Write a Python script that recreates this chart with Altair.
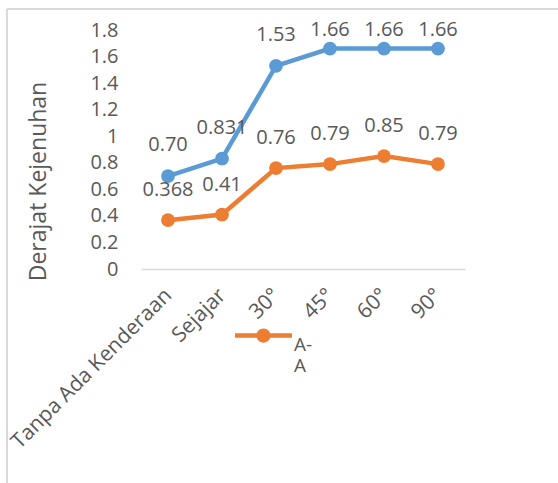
import altair as alt
import pandas as pd

categories = ["Tanpa Ada Kenderaan", "Sejajar", "30°", "45°", "60°", "90°"]
blue_values = [0.70, 0.831, 1.53, 1.66, 1.66, 1.66]
blue_labels = ["0.70", "0.831", "1.53", "1.66", "1.66", "1.66"]
orange_values = [0.368, 0.41, 0.76, 0.79, 0.85, 0.79]
orange_labels = ["0.368", "0.41", "0.76", "0.79", "0.85", "0.79"]
orange_name = "A-A"
y_ticks = [0, 0.2, 0.4, 0.6, 0.8, 1.0, 1.2, 1.4, 1.6, 1.8]
y_title = "Derajat Kejenuhan"

BLUE = "#5B9BD5"
ORANGE = "#ED7D31"
GREY = "#595959"
FONT = "Open Sans"

blue_df = pd.DataFrame({"cat": categories, "val": blue_values, "lab": blue_labels})
orange_df = pd.DataFrame({"cat": categories, "val": orange_values, "lab": orange_labels,
                          "series": [orange_name] * len(categories)})

x_enc = alt.X("cat:N", sort=categories, title=None,
              axis=alt.Axis(domainColor="#D9D9D9", domainWidth=1.5, ticks=False,
                            labelAngle=-45, labelAlign="right", labelBaseline="middle",
                            labelPadding=23, labelFontSize=21, labelColor=GREY,
                            labelFont=FONT, labelLimit=300))
y_enc = alt.Y("val:Q", title=y_title,
              scale=alt.Scale(domain=[0, 1.8], nice=False),
              axis=alt.Axis(values=y_ticks, format="~g", domain=False, ticks=False, grid=False,
                            labelOverlap=False,
                            labelPadding=23, labelFontSize=20, labelColor=GREY, labelFont=FONT,
                            titleFontSize=23, titleColor=GREY, titleFont=FONT,
                            titleFontWeight="normal", titleAngle=-90, titleX=-103, titleY=151,
                            titleAlign="center", titleBaseline="middle"))

blue_line = alt.Chart(blue_df).mark_line(color=BLUE, strokeWidth=4.5).encode(x=x_enc, y=y_enc)
blue_pts = alt.Chart(blue_df).mark_circle(color=BLUE, size=190, opacity=1).encode(x=x_enc, y=y_enc)
blue_txt_low = alt.Chart(blue_df).transform_filter("datum.val < 1.6").mark_text(
    dy=-25, baseline="alphabetic", fontSize=20, color=GREY, font=FONT).encode(x=x_enc, y=y_enc, text="lab:N")
blue_txt_high = alt.Chart(blue_df).transform_filter("datum.val >= 1.6").mark_text(
    dy=-13, baseline="alphabetic", fontSize=20, color=GREY, font=FONT).encode(x=x_enc, y=y_enc, text="lab:N")

legend_path = ("M-1,-0.08H1V0.08H-1Z"
               "M0.25,0A0.25,0.25 0 1 1 -0.25,0A0.25,0.25 0 1 1 0.25,0Z")

orange_line = alt.Chart(orange_df).mark_line(color=ORANGE, strokeWidth=4.5).encode(x=x_enc, y=y_enc)
orange_pts = alt.Chart(orange_df).mark_circle(size=190, opacity=1).encode(
    x=x_enc, y=y_enc,
    color=alt.Color("series:N", scale=alt.Scale(domain=[orange_name], range=[ORANGE]),
                    legend=alt.Legend(title=None, orient="none", legendX=94, legendY=277,
                                      symbolType=legend_path, symbolSize=3249,
                                      symbolStrokeWidth=0, labelExpr="['A-', 'A']",
                                      labelFontSize=19, labelColor=GREY, labelFont=FONT,
                                      labelOffset=2, labelBaseline="top", padding=0)))
orange_txt = alt.Chart(orange_df).mark_text(
    dy=-24, baseline="alphabetic", fontSize=20, color=GREY, font=FONT).encode(
    x=x_enc, y=y_enc, text="lab:N")

border_left = alt.Chart(blue_df).mark_rule(color="#D9D9D9", strokeWidth=1.5).encode(
    x=alt.value(-134), y=alt.value(-21), y2=alt.value(453))
border_top = alt.Chart(blue_df).mark_rule(color="#D9D9D9", strokeWidth=1.5).encode(
    x=alt.value(-134), x2=alt.value(417), y=alt.value(-21))

chart = alt.layer(
    border_left, border_top,
    blue_line, blue_pts, orange_line, orange_pts,
    blue_txt_low, blue_txt_high, orange_txt
).properties(
    width=324, height=239,
    autosize=alt.AutoSizeParams(type="none"),
    padding={"left": 141, "top": 30, "right": 93, "bottom": 214},
    background="white"
).configure_view(stroke=None)

chart.save("out.html", embed_options={"renderer": "svg", "actions": False})
